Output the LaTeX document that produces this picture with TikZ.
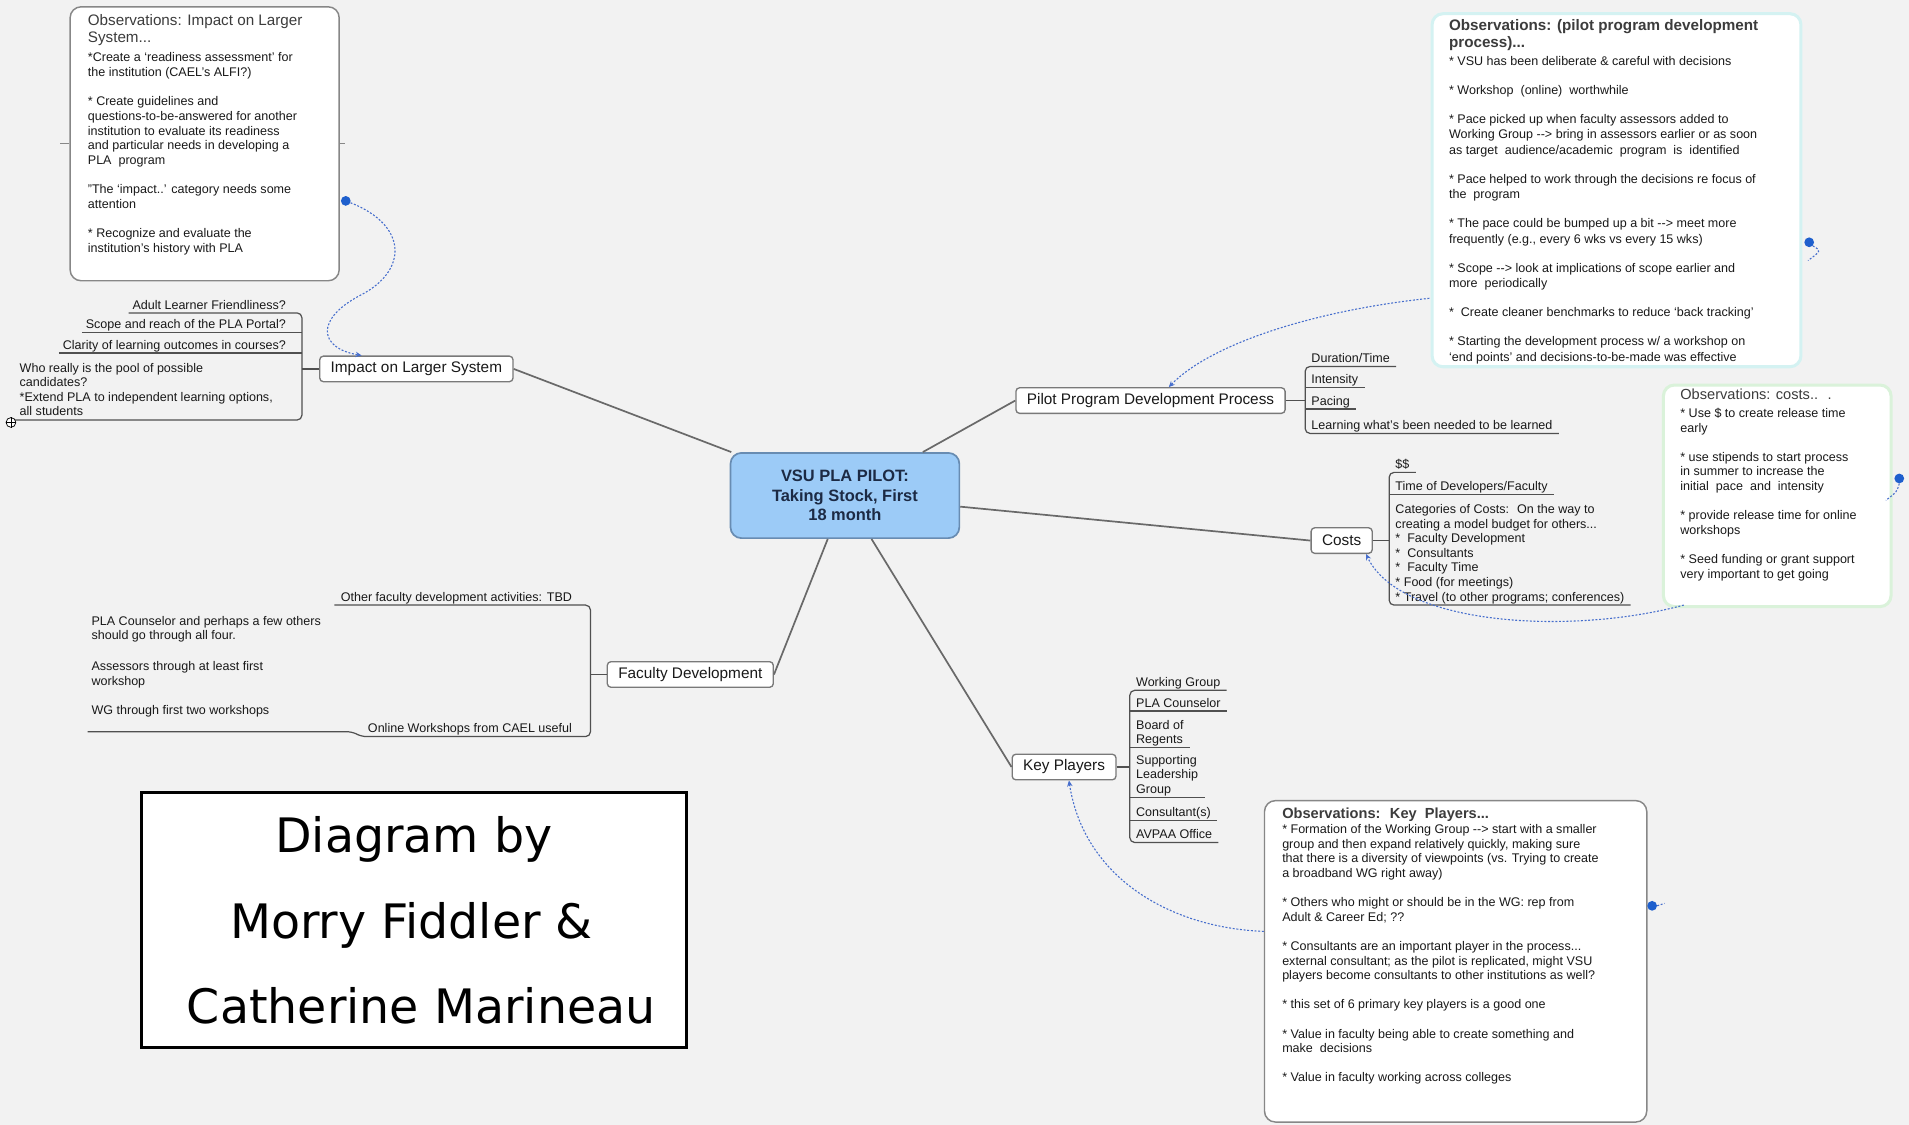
\documentclass[tikz,border=0pt]{standalone}
\usepackage{fontspec}
\setmainfont{Liberation Sans}
\newfontfamily\dvsans{DejaVu Sans}
\usetikzlibrary{arrows.meta}
\definecolor{bgc}{RGB}{242,242,242}
\definecolor{ctrfill}{RGB}{156,203,247}
\definecolor{ctrdraw}{RGB}{104,140,178}
\definecolor{ctrtext}{RGB}{28,42,68}
\definecolor{branchc}{RGB}{105,105,105}
\definecolor{ulinec}{RGB}{80,80,80}
\definecolor{relc}{RGB}{70,110,205}
\definecolor{dotc}{RGB}{30,95,205}
\definecolor{boxgray}{RGB}{135,135,135}
\definecolor{boxcyan}{RGB}{212,242,242}
\definecolor{boxgreen}{RGB}{218,242,218}
\definecolor{txt}{RGB}{25,25,25}
\definecolor{titlec}{RGB}{60,60,60}
\newcommand\fbody{\fontsize{10.3}{12}\selectfont}
\newcommand\fbodyp{\fontsize{10.3}{12.5}\selectfont}
\newcommand\fbodyq{\fontsize{10.3}{12.2}\selectfont}
\newcommand\ftitle{\fontsize{12.5}{14}\selectfont}
\newcommand\ftopic{\fontsize{12.6}{14}\selectfont}
\tikzset{
  hub/.style={draw=ctrdraw, fill=ctrfill, line width=1.4pt, rounded corners=9pt,
    minimum width=188pt, minimum height=70pt, align=center, text=ctrtext,
    font=\bfseries\fontsize{13.5}{16}\selectfont},
  topic/.style={draw=boxgray!90!black, fill=white, line width=1.1pt, rounded corners=3pt,
    inner xsep=9pt, inner ysep=0pt, minimum height=21pt, font=\ftopic, text=txt},
  item/.style={inner xsep=5pt, inner ysep=1pt, text depth=2pt, font=\fbody, text=txt, align=left},
  litem/.style={item, inner xsep=3pt},
  uline/.style={draw=ulinec, line width=1pt},
  brk/.style={uline, rounded corners=4pt},
  branchl/.style={draw=branchc, line width=1.4pt},
  rel/.style={draw=relc, line width=0.9pt, dash pattern=on 1.6pt off 1.4pt,
    -{Stealth[length=5pt,width=4.5pt]}},
  reltail/.style={draw=relc, line width=0.9pt, dash pattern=on 1.6pt off 1.4pt},
  dotn/.style={circle, fill=dotc, inner sep=0pt, minimum size=8pt},
  obsbox/.style={fill=white, rounded corners=9pt, anchor=north west, inner sep=0pt},
  obstxt/.style={anchor=north west, inner sep=0pt, align=left, text=txt},
  credit/.style={font=\dvsans\fontsize{39}{42}\selectfont, anchor=base, inner sep=0pt, text=black}
}
\begin{document}
\begin{tikzpicture}[x=1pt,y=-1pt]
\fill[bgc] (0,0) rectangle (1568,924);
\useasboundingbox (0,0) rectangle (1568,924);

% ---------- observation boxes ----------
\node[obsbox, draw=boxgray, line width=1.2pt, minimum width=221pt, minimum height=225pt] (ob1) at (57,5) {};
\draw[boxgray, line width=0.6pt] (ob1.west) -- ++(-8,0) (ob1.east) -- ++(4,0);
\node[obstxt, font=\ftitle, text=titlec] (ob1t) at (72,12) {Observations: Impact on Larger\\System...};
\node[obstxt, font=\fbodyq] (ob1b) at (72,43) {{*}Create a `readiness assessment' for\\the institution (CAEL's ALFI?)\\[11.5pt]{*} Create guidelines and\\questions-to-be-answered for another\\institution to evaluate its readiness\\and particular needs in developing a\\PLA~ program\\[11.5pt]"The `impact..' category needs some\\attention\\[11.5pt]{*} Recognize and evaluate the\\institution's history with PLA};

\node[obsbox, draw=boxcyan, line width=2.5pt, minimum width=303pt, minimum height=290pt] (ob2) at (1175,10) {};
\node[obstxt, font=\bfseries\ftitle, text=titlec] (ob2t) at (1190,16) {Observations: (pilot program development\\process)...};
\node[obstxt, font=\fbodyp] (ob2b) at (1190,46) {{*} VSU has been deliberate \& careful with decisions\\[11.5pt]{*} Workshop~ (online)~ worthwhile\\[11.5pt]{*} Pace picked up when faculty assessors added to\\Working Group -{}-> bring in assessors earlier or as soon\\as target~ audience/academic~ program~ is~ identified\\[11.5pt]{*} Pace helped to work through the decisions re focus of\\the~ program\\[11.5pt]{*} The pace could be bumped up a bit -{}-> meet more\\frequently (e.g., every 6 wks vs every 15 wks)\\[11.5pt]{*} Scope -{}-> look at implications of scope earlier and\\more~ periodically\\[11.5pt]{*}~ Create cleaner benchmarks to reduce `back tracking'\\[11.5pt]{*} Starting the development process w/ a workshop on\\`end points' and decisions-to-be-made was effective};

\node[obsbox, draw=boxgreen, line width=2.5pt, minimum width=187pt, minimum height=182pt] (ob3) at (1365,315) {};
\node[obstxt, font=\fontsize{12}{14}\selectfont, text=titlec] (ob3t) at (1380,319) {Observations: costs..~ .};
\node[obstxt, font=\fbody] (ob3b) at (1380,335) {{*} Use \$ to create release time\\early\\[12pt]{*} use stipends to start process\\in summer to increase the\\initial~ pace~ and~ intensity\\[12pt]{*} provide release time for online\\workshops\\[12pt]{*} Seed funding or grant support\\very important to get going};

\node[obsbox, draw=boxgray, line width=1.2pt, minimum width=314pt, minimum height=264pt] (ob4) at (1038,657) {};
\node[obstxt, font=\bfseries\fontsize{12}{14}\selectfont, text=titlec] (ob4t) at (1053,663) {Observations:~ Key~ Players...};
\node[obstxt, font=\fbody] (ob4b) at (1053,677) {{*} Formation of the Working Group -{}-> start with a smaller\\group and then expand relatively quickly, making sure\\that there is a diversity of viewpoints (vs. Trying to create\\a broadband WG right away)\\[12pt]{*} Others who might or should be in the WG: rep from\\Adult \& Career Ed; ??\\[12pt]{*} Consultants are an important player in the process...\\external consultant; as the pilot is replicated, might VSU\\players become consultants to other institutions as well?\\[12pt]{*} this set of 6 primary key players is a good one\\[12pt]{*} Value in faculty being able to create something and\\make~ decisions\\[12pt]{*} Value in faculty working across colleges};

% ---------- central and main topics ----------
\node[hub] (ctr) at (694,407) {VSU PLA PILOT:\\Taking Stock, First\\18 month};
\node[topic] (impact) at (342,303) {Impact on Larger System};
\node[topic] (pilot) at (945,329) {Pilot Program Development Process};
\node[topic] (costs) at (1102,444) {Costs};
\node[topic] (facdev) at (567,554) {Faculty Development};
\node[topic] (keyp) at (874,630) {Key Players};

\draw[branchl] (ctr) -- (impact.east);
\draw[branchl] (ctr) -- (pilot.west);
\draw[branchl] (ctr) -- (costs.west);
\draw[branchl] (ctr) -- (facdev.east);
\draw[branchl] (ctr) -- (keyp.west);

% ---------- Impact on Larger System items (left) ----------
\node[litem, anchor=south east] (im1) at (238,257) {Adult Learner Friendliness?};
\node[litem, anchor=south east] (im2) at (238,273) {Scope and reach of the PLA Portal?};
\node[litem, anchor=south east] (im3) at (238,290) {Clarity of learning outcomes in courses?};
\node[obstxt, font=\fbody] (im4) at (16,298) {Who really is the pool of possible\\candidates?\\{*}Extend PLA to independent learning options,\\all students};
\coordinate (imbt) at (248,257);
\coordinate (imbb) at (248,345);
\coordinate (im4l) at (6,345);
\draw[brk] (im1.south west) -- (imbt) -- (imbb) -- (im4l);
\draw[uline] (im2.south west) -- (im2.south -| imbt);
\draw[uline] (im3.south west) -- (im3.south -| imbt);
\draw[uline] (impact.west) -- (impact.west -| imbt);
\node[circle, draw=black, fill=white, line width=0.6pt, minimum size=8pt, inner sep=0pt] (plus) at (9,347) {};
\draw[line width=0.6pt] (plus.west) -- (plus.east) (plus.north) -- (plus.south);

% ---------- Pilot program items ----------
\node[item, anchor=south west] (pp1) at (1072,301) {Duration/Time};
\node[item, anchor=south west] (pp2) at (1072,318) {Intensity};
\node[item, anchor=south west] (pp3) at (1072,336) {Pacing};
\node[item, anchor=south west] (pp4) at (1072,356) {Learning what's been needed to be learned};
\draw[brk] (pp1.south east) -- (pp1.south west) -- (pp4.south west) -- (pp4.south east);
\draw[uline] (pp2.south west) -- (pp2.south east);
\draw[uline] (pp3.south west) -- (pp3.south east);
\draw[uline] (pilot.east) -- (pilot.east -| pp1.south west);

% ---------- Costs items ----------
\node[item, anchor=south west] (cs1) at (1141,388) {\$\$};
\node[item, anchor=south west] (cs2) at (1141,406) {Time of Developers/Faculty};
\node[item, anchor=south west] (cs3) at (1141,497) {Categories of Costs:~ On the way to\\creating a model budget for others...\\{*}~ Faculty Development\\{*}~ Consultants\\{*}~ Faculty Time\\{*} Food (for meetings)\\{*} Travel (to other programs; conferences)};
\draw[brk] (cs1.south east) -- (cs1.south west) -- (cs3.south west) -- (cs3.south east);
\draw[uline] (cs2.south west) -- (cs2.south east);
\draw[uline] (costs.east) -- (costs.east -| cs1.south west);

% ---------- Faculty Development items (left) ----------
\node[litem, anchor=south east, inner xsep=5pt] (fd1) at (475,497) {Other faculty development activities: TBD};
\node[litem, anchor=south east, inner xsep=5pt] (fd2) at (475,605) {Online Workshops from CAEL useful};
\node[obstxt, font=\fbody] (fdpla) at (75,506) {PLA Counselor and perhaps a few others\\should go through all four.\\[13pt]Assessors through at least first\\workshop\\[12pt]WG through first two workshops};
\coordinate (fdbt) at (485,497);
\coordinate (fdbb) at (485,605);
\coordinate (plaR) at (289,601);
\coordinate (plaL) at (72,601);
\draw[brk] (fd1.south west) -- (fdbt) -- (fdbb) -- (fd2.south west) -- (plaR) -- (plaL);
\draw[uline] (facdev.west) -- (facdev.west -| fdbt);

% ---------- Key Players items ----------
\node[item, anchor=south west] (kp1) at (928,567) {Working Group};
\node[item, anchor=south west] (kp2) at (928,584) {PLA Counselor};
\node[item, anchor=south west] (kp3) at (928,614) {Board of\\Regents};
\node[item, anchor=south west] (kp4) at (928,655) {Supporting\\Leadership\\Group};
\node[item, anchor=south west] (kp5) at (928,674) {Consultant(s)};
\node[item, anchor=south west] (kp6) at (928,692) {AVPAA Office};
\draw[brk] (kp1.south east) -- (kp1.south west) -- (kp6.south west) -- (kp6.south east);
\foreach \k in {kp2,kp3,kp4,kp5} \draw[uline] (\k.south west) -- (\k.south east);
\draw[uline] (keyp.east) -- (keyp.east -| kp1.south west);

% ---------- relationships ----------
\node[dotn] (dot1) at (284,165) {};
\node[dotn] (dot2) at (1486,199) {};
\node[dotn] (dot3) at (1560,393) {};
\node[dotn] (dot4) at (1357,744) {};
\draw[rel] (dot1) .. controls (335,185) and (335,222) .. (297,242) .. controls (258,262) and (262,286) .. ([xshift=-45pt]impact.north);
\coordinate (r2s) at (1174,245);
\draw[rel] (r2s) .. controls (1080,255) and (995,282) .. ([xshift=15pt]pilot.north);
\coordinate (r3s) at (1383,497);
\draw[rel] (r3s) .. controls (1290,522) and (1150,514) .. ([xshift=20pt]costs.south);
\coordinate (r4s) at (1038,765);
\draw[rel] (r4s) .. controls (960,762) and (890,720) .. ([xshift=4pt]keyp.south);
\draw[reltail] (dot2.south east) .. controls (1496,206) .. (1485,214);
\draw[reltail] (dot3.south) .. controls (1558,404) .. (1549,411);
\draw[reltail] (dot4.east) -- ++(6,-2);

% ---------- credit box ----------
\node[draw=black, line width=2.2pt, fill=white, minimum width=448pt, minimum height=209pt, anchor=north west, inner sep=0pt] (credit) at (115,650) {};
\node[credit] (cr1) at (340,700) {Diagram by};
\node[credit] (cr2) at (338,771) {Morry Fiddler \&};
\node[credit] (cr3) at (346,841) {Catherine Marineau};
\end{tikzpicture}
\end{document}
